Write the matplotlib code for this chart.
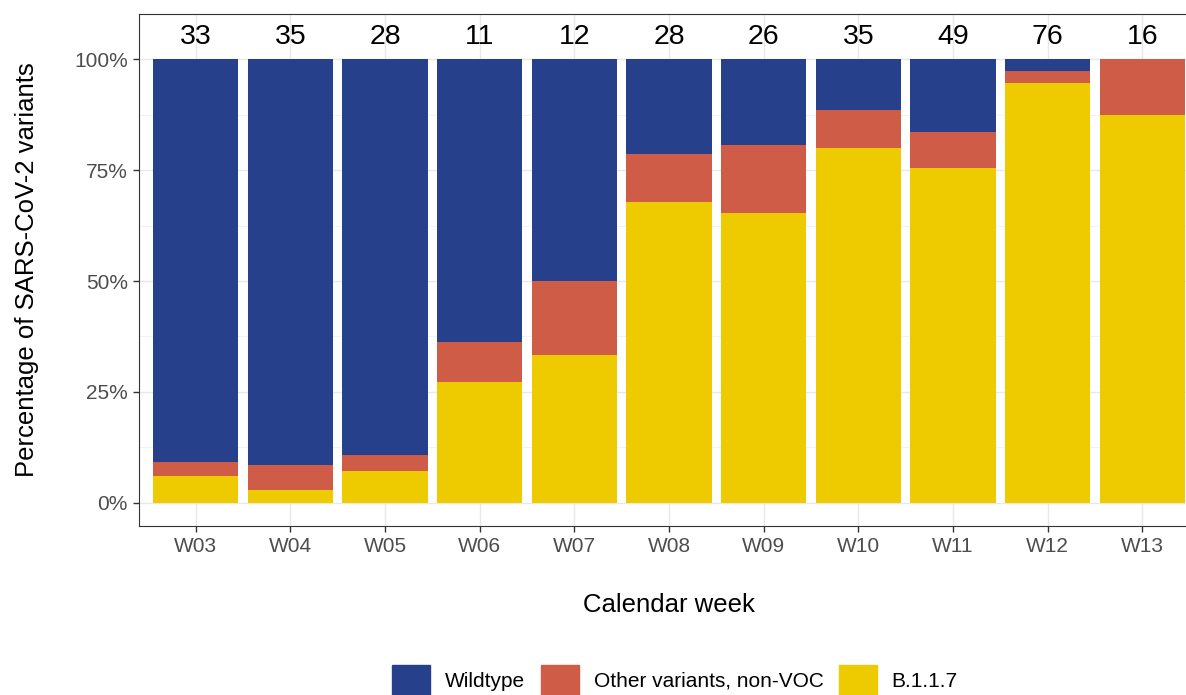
import numpy as np
import matplotlib
matplotlib.use('Agg')
from matplotlib import pyplot as plt
from matplotlib.patches import Patch

plt.rcParams['font.family'] = ['Liberation Sans', 'DejaVu Sans']

# 每周样本数（按变异株分类）
weeks = ['W03', 'W04', 'W05', 'W06', 'W07', 'W08', 'W09', 'W10', 'W11', 'W12', 'W13']
b117 = [2, 1, 2, 3, 4, 19, 17, 28, 37, 72, 14]
other = [1, 2, 1, 1, 2, 3, 4, 3, 4, 2, 2]
wildtype = [30, 32, 25, 7, 6, 6, 5, 4, 8, 2, 0]

b117 = np.array(b117, dtype=float)
other = np.array(other, dtype=float)
wildtype = np.array(wildtype, dtype=float)
total = b117 + other + wildtype

p_b117 = b117 / total
p_other = other / total
p_wild = wildtype / total

c_wild = '#26408B'
c_other = '#CE5C46'
c_b117 = '#EECA00'

fig = plt.figure(figsize=(11.86, 6.95), dpi=100)
ax = fig.add_axes([139 / 1186, 1 - 526 / 695, (1199 - 139) / 1186, (526 - 14) / 695])

x = np.arange(1, len(weeks) + 1)
ax.bar(x, p_b117, width=0.9, color=c_b117, zorder=3)
ax.bar(x, p_other, width=0.9, bottom=p_b117, color=c_other, zorder=3)
ax.bar(x, p_wild, width=0.9, bottom=p_b117 + p_other, color=c_wild, zorder=3)

for xi, n in zip(x, total):
    ax.text(xi, 1.05, '%d' % n, ha='center', va='center', fontsize=20.5, color='black', zorder=4)

ax.set_xlim(0.4, 11.6)
ax.set_ylim(-0.0525, 1.1025)
ax.set_xticks(x)
ax.set_xticklabels(weeks)
ax.set_yticks([0, 0.25, 0.5, 0.75, 1.0])
ax.set_yticklabels(['0%', '25%', '50%', '75%', '100%'])
ax.set_yticks([0.125, 0.375, 0.625, 0.875], minor=True)

ax.grid(True, which='major', color='#E8E8E8', linewidth=1.0, zorder=0)
ax.grid(True, which='minor', axis='y', color='#F0F0F0', linewidth=0.6, zorder=0)
ax.set_axisbelow(True)

ax.tick_params(axis='both', which='major', length=4, width=1, color='#333333',
               labelsize=15, labelcolor='#4D4D4D', pad=4)
ax.tick_params(axis='both', which='minor', length=0)
for s in ax.spines.values():
    s.set_color('#333333')
    s.set_linewidth(0.8)

ax.set_xlabel('Calendar week', fontsize=18.5)
ax.set_ylabel('Percentage of SARS-CoV-2 variants', fontsize=18.5)
ax.xaxis.set_label_coords((669 - 139) / 1060, (526 - 605) / 512)
ax.yaxis.set_label_coords((27 - 139) / 1060, (526 - 270) / 512)
ax.xaxis.label.set_va('center')
ax.yaxis.label.set_va('center')

handles = [Patch(color=c_wild, label='Wildtype'),
           Patch(color=c_other, label='Other variants, non-VOC'),
           Patch(color=c_b117, label='B.1.1.7')]
fig.legend(handles=handles, loc='center', bbox_to_anchor=(675 / 1186, 1 - 680 / 695),
           ncol=3, frameon=False, fontsize=15, handlelength=1.83, handleheight=1.83,
           handletextpad=0.72, columnspacing=0.72, borderpad=0)

plt.savefig('out.png', dpi=100)
